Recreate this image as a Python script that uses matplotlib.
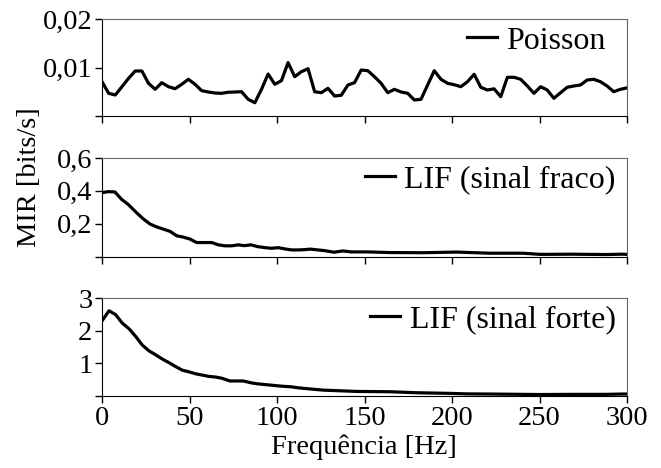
import numpy as np
import matplotlib
matplotlib.use("Agg")
import matplotlib.pyplot as plt

plt.rcParams['font.family'] = ['Liberation Serif', 'DejaVu Serif']
plt.rcParams['font.size'] = 20

# Poisson: regular frequency grid, 80 samples 0..300 Hz
poisson = [0.00707, 0.00468, 0.00433, 0.00604, 0.00777, 0.00928, 0.00928, 0.00674,
           0.0055, 0.00687, 0.00604, 0.00563, 0.00654, 0.00757, 0.00654, 0.00522,
           0.00495, 0.00474, 0.00468, 0.0049, 0.00495, 0.00501, 0.00344, 0.00274,
           0.0055, 0.00866, 0.00654, 0.00728, 0.0110, 0.0081, 0.00913, 0.00975,
           0.00501, 0.0048, 0.00571, 0.00412, 0.00427, 0.00639, 0.00687, 0.00948,
           0.00934, 0.0081, 0.00674, 0.0048, 0.0055, 0.00495, 0.00468, 0.0033,
           0.00344, 0.00639, 0.00934, 0.00757, 0.00674, 0.00645, 0.00604, 0.00707,
           0.0086, 0.00592, 0.00536, 0.0056, 0.00398, 0.00798, 0.00798, 0.00757,
           0.00619, 0.00468, 0.00604, 0.00536, 0.00365, 0.0048, 0.00592, 0.00619,
           0.00639, 0.00742, 0.00757, 0.00707, 0.00619, 0.00501, 0.0055, 0.0058]
freq_poisson = np.linspace(0, 300, len(poisson))

freq_weak = [0, 3.6, 7.4, 11.2, 15, 19.8, 23.6, 27.4, 31.3, 35, 38.9, 42.7, 46.5, 50.3,
             54.1, 58.9, 62.7, 66.5, 70.3, 74.1, 77.9, 81.3, 85.1, 89, 93.1, 97, 100.7,
             104.6, 108.4, 112.2, 116, 119, 127, 132.6, 137.5, 142.3, 151.8, 164.6,
             183.4, 202.7, 221.7, 240.6, 250.3, 269, 288.6, 297, 300]
lif_weak = [0.389, 0.395, 0.393, 0.348, 0.317, 0.266, 0.229, 0.198, 0.18, 0.167, 0.153,
            0.126, 0.118, 0.106, 0.085, 0.085, 0.085, 0.071, 0.065, 0.065, 0.071, 0.066,
            0.071, 0.06, 0.054, 0.05, 0.054, 0.046, 0.040, 0.040, 0.042, 0.045, 0.036,
            0.026, 0.034, 0.028, 0.028, 0.024, 0.023, 0.027, 0.02, 0.02, 0.013, 0.014,
            0.012, 0.014, 0.013]

freq_strong = [0, 4, 7.8, 11.6, 15.4, 19.3, 23, 26.9, 30.7, 34.5, 38.3, 42.1, 45.9, 49.7,
               53.5, 57.3, 61.1, 65, 68.7, 73.1, 80.7, 85.5, 89.3, 93.1, 97, 102.7, 108.4,
               112.2, 116, 126.5, 145.5, 164.6, 179.8, 198.9, 208.4, 221.7, 240.7, 250.3,
               269.3, 288.4, 297, 300]
lif_strong = [2.30, 2.61, 2.49, 2.23, 2.06, 1.82, 1.56, 1.38, 1.26, 1.13, 1.02, 0.90, 0.79,
              0.74, 0.68, 0.64, 0.60, 0.58, 0.54, 0.46, 0.46, 0.40, 0.37, 0.35, 0.33, 0.30,
              0.28, 0.25, 0.23, 0.18, 0.14, 0.13, 0.10, 0.08, 0.065, 0.06, 0.05, 0.045,
              0.05, 0.05, 0.06, 0.06]

panels = [
    (freq_poisson, poisson, 'Poisson', [0, 0.01, 0.02], ['', '0,01', '0,02'], 0.02),
    (freq_weak, lif_weak, 'LIF (sinal fraco)', [0, 0.2, 0.4, 0.6], ['', '0,2', '0,4', '0,6'], 0.6),
    (freq_strong, lif_strong, 'LIF (sinal forte)', [0, 1, 2, 3], ['', '1', '2', '3'], 3),
]

fig = plt.figure(figsize=(6.61, 4.68), dpi=100)
left, width = 102 / 661, (627 - 102) / 661
tops = [19, 158, 298]
bottoms = [116, 256.5, 396]
legend_dx = [10, 0, 0]  # px shift of legend to the left

for i, (fx, fy, name, yt, ytl, ymax) in enumerate(panels):
    h = bottoms[i] - tops[i]
    ax = fig.add_axes([left, 1 - bottoms[i] / 468, width, h / 468])
    ax.plot(fx, fy, color='black', lw=2.3, label=name)
    ax.set_xlim(0, 300)
    ax.set_ylim(0, ymax)
    ax.set_yticks(yt)
    ax.set_yticklabels(ytl)
    ax.set_xticks(range(0, 301, 50))
    if i < 2:
        ax.set_xticklabels([])
    ax.tick_params(direction='out', length=5, width=1, pad=2, labelsize=20.5)
    for s in ['top', 'right']:
        ax.spines[s].set_color('#666666')
    for s in ['left', 'bottom']:
        ax.spines[s].set_color('black')
    ax.legend(loc='upper right', frameon=False, fontsize=23, handlelength=0.95,
              handletextpad=0.3, borderaxespad=0.25, borderpad=0.1,
              bbox_to_anchor=(1 - legend_dx[i] / 525, 1 + 4 / h))

fig.text(30 / 661, 1 - 177 / 468, 'MIR [bits/s]', rotation=90, ha='center', va='center', fontsize=20.5)
fig.text(364 / 661, 1 - 447 / 468, 'Frequência [Hz]', ha='center', va='center', fontsize=20.5)

fig.savefig('out.png', dpi=100)
